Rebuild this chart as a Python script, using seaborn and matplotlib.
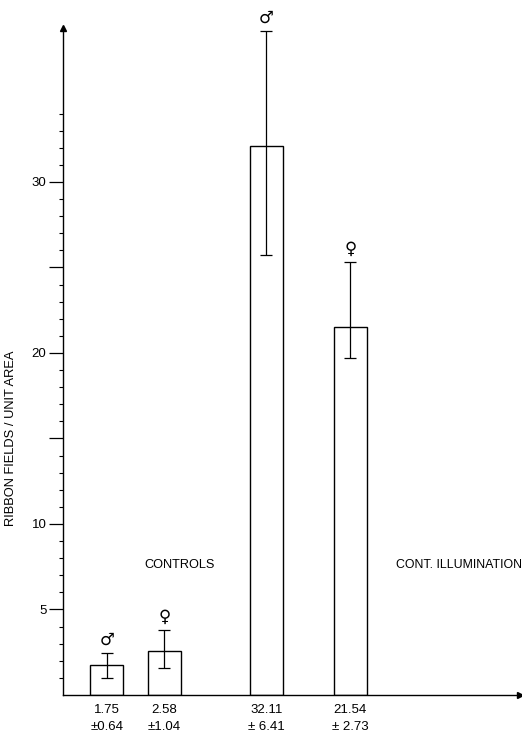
import matplotlib
matplotlib.use("Agg")
import matplotlib.pyplot as plt
import seaborn as sns
import pandas as pd
import numpy as np

# ---- data ----
groups = ["control_m", "control_f", "illum_m", "illum_f"]
sexes = ["\u2642", "\u2640", "\u2642", "\u2640"]
means = [1.75, 2.58, 32.11, 21.54]
sds = [0.64, 1.04, 6.41, 2.73]
err_low = [1.0, 1.6, 25.7, 19.7]     # drawn lower error limits
err_high = [2.45, 3.8, 38.8, 25.3]   # drawn upper error limits
mean_labels = ["1.75", "2.58", "32.11", "21.54"]
sd_labels = ["\u00b10.64", "\u00b11.04", "\u00b1 6.41", "\u00b1 2.73"]
ytick_labeled = [5, 10, 20, 30]
ytick_unlabeled = [15, 25]
group_names = ["CONTROLS", "CONT. ILLUMINATION"]

# ---- layout ----
xpos = [0.765, 1.765, 3.54, 5.0]
group_text_pos = [(2.03, 7.6, "center", 9.2), (5.8, 7.6, "left", 8.9)]

sns.set_theme(style="white")
plt.rcParams["font.family"] = ["Liberation Sans", "DejaVu Sans"]
plt.rcParams["text.color"] = "black"
plt.rcParams["axes.labelcolor"] = "black"
plt.rcParams["xtick.color"] = "black"
plt.rcParams["ytick.color"] = "black"

fig = plt.figure(figsize=(5.22, 7.35), dpi=100)
ax = fig.add_axes([63 / 522, 40 / 735, 457 / 522, 667 / 735])

df = pd.DataFrame({"x": xpos, "y": means, "g": groups})
sns.barplot(data=df, x="x", y="y", native_scale=True, width=0.574,
            color="white", edgecolor="black", linewidth=1.0, errorbar=None, ax=ax)

lo = np.array(means) - np.array(err_low)
hi = np.array(err_high) - np.array(means)
ax.errorbar(xpos, means, yerr=[lo, hi], fmt="none", ecolor="black",
            elinewidth=0.9, capsize=4.5, capthick=0.9)

for x, top, s in zip(xpos, err_high, sexes):
    ax.annotate(s, xy=(x, top), xytext=(0, 3), textcoords="offset points",
                ha="center", va="bottom", fontsize=12, family=["DejaVu Sans"],
                color="black")

for x, m, sd in zip(xpos, mean_labels, sd_labels):
    ax.annotate(m, xy=(x, 0), xycoords=("data", "axes fraction"), xytext=(0, -11),
                textcoords="offset points", ha="center", va="center", fontsize=9.5,
                color="black")
    ax.annotate(sd, xy=(x, 0), xycoords=("data", "axes fraction"), xytext=(0, -23),
                textcoords="offset points", ha="center", va="center", fontsize=9.5,
                color="black")

for (gx, gy, ha, fs), name in zip(group_text_pos, group_names):
    ax.text(gx, gy, name, ha=ha, va="center", fontsize=fs, clip_on=False,
            color="black")

ax.set_xlim(0, 7.95)
ax.set_ylim(0, 39)
ax.set_xlabel("")
ax.set_ylabel("RIBBON FIELDS / UNIT AREA", fontsize=9.3, labelpad=4, color="black")
ax.yaxis.set_label_coords(-0.1, 0.385)

majors = sorted(ytick_labeled + ytick_unlabeled)
ax.set_yticks(majors)
ax.set_yticklabels([str(v) if v in ytick_labeled else "" for v in majors],
                   fontsize=9.5, color="black")
ax.set_yticks([v for v in range(1, 35) if v not in majors], minor=True)
ax.tick_params(axis="y", which="major", direction="out", length=10, width=0.9,
               color="black", left=True, pad=2, labelcolor="black")
ax.tick_params(axis="y", which="minor", direction="out", length=3, width=0.8,
               color="black", left=True)
ax.set_xticks([])

for s in ["top", "right"]:
    ax.spines[s].set_visible(False)
for s in ["left", "bottom"]:
    ax.spines[s].set_color("black")
    ax.spines[s].set_linewidth(1.0)

# arrowheads at the axis ends
ax.plot([0], [1], marker="^", color="black", markersize=5,
        transform=ax.transAxes, clip_on=False)
ax.plot([1], [0], marker=">", color="black", markersize=5,
        transform=ax.transAxes, clip_on=False)

fig.savefig("out.png", dpi=100)
